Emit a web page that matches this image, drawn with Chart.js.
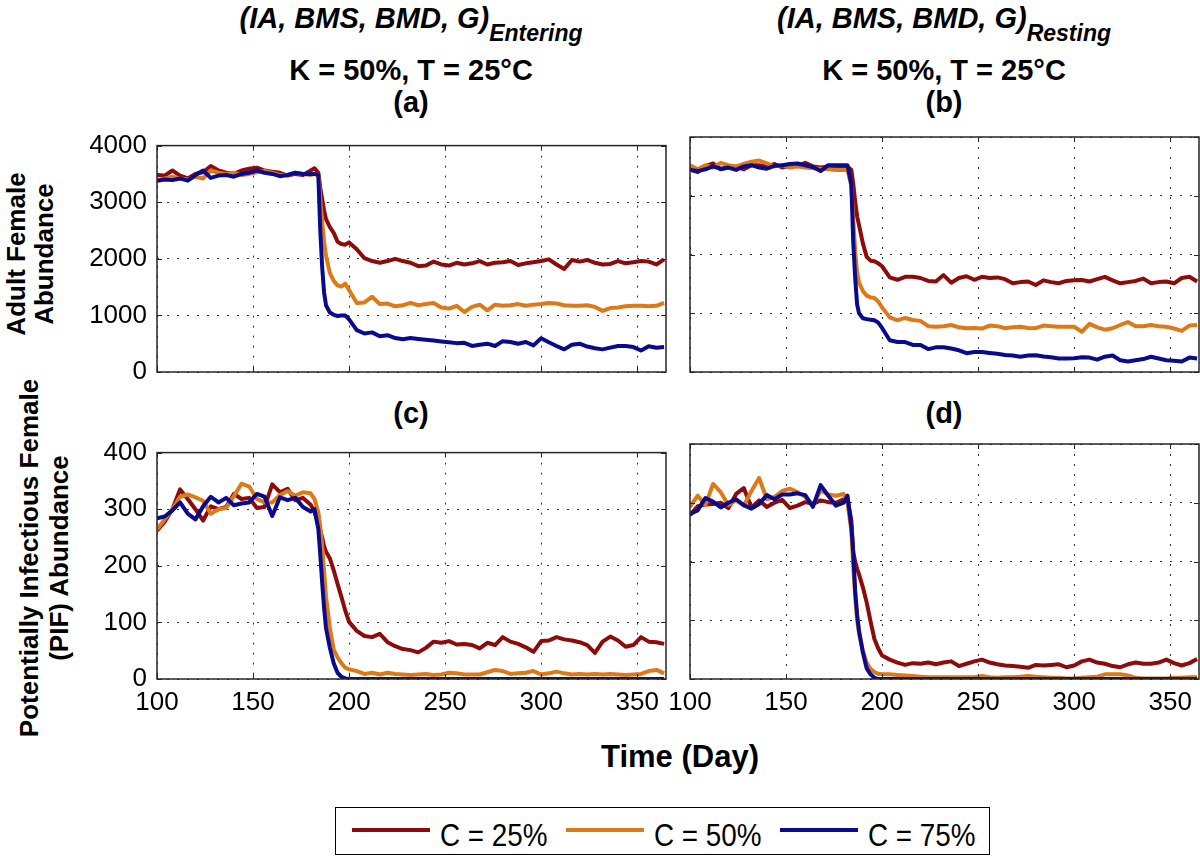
<!DOCTYPE html>
<html>
<head>
<meta charset="utf-8">
<script src="https://cdn.jsdelivr.net/npm/chart.js@4.4.1/dist/chart.umd.min.js"></script>
<style>
  body { margin: 0; background: #fff; }
  #fig { position: relative; width: 1200px; height: 856px; overflow: hidden;
         font-family: "Liberation Sans", Arial, Helvetica, sans-serif; color: #000; }
  canvas { position: absolute; }
  .t { position: absolute; white-space: nowrap; line-height: 1; font-weight: bold;
       transform: translateX(-50%); }
  .sub { font-size: 23px; position: relative; top: 13px; }
  .ylab { position: absolute; white-space: nowrap; font-weight: bold; font-size: 26px;
          text-align: center; transform: translate(-50%, -50%) rotate(-90deg); }
  .legbox { position: absolute; left: 335px; top: 807px; width: 655px; height: 48px;
            box-sizing: border-box; border: 1px solid #000; }
  .legline { position: absolute; height: 4px; width: 78px; top: 828px; }
  .legtext { position: absolute; top: 819px; font-size: 32px; line-height: 1; white-space: nowrap;
             transform: scaleX(0.87); transform-origin: left top; }
</style>
</head>
<body>
<div id="fig">
  <div class="t" style="left:411px;top:4px;font-size:29px;font-style:italic">(IA, BMS, BMD, G)<span class="sub">Entering</span></div>
  <div class="t" style="left:411px;top:56px;font-size:29px">K = 50%, T = 25°C</div>
  <div class="t" style="left:411px;top:88px;font-size:29px">(a)</div>

  <div class="t" style="left:944px;top:4px;font-size:29px;font-style:italic">(IA, BMS, BMD, G)<span class="sub">Resting</span></div>
  <div class="t" style="left:944px;top:56px;font-size:29px">K = 50%, T = 25°C</div>
  <div class="t" style="left:944px;top:88px;font-size:29px">(b)</div>

  <div class="t" style="left:411px;top:399px;font-size:29px">(c)</div>
  <div class="t" style="left:944px;top:399px;font-size:29px">(d)</div>

  <div class="ylab" style="left:30px;top:254px;line-height:28px">Adult Female<br>Abundance</div>
  <div class="ylab" style="left:44px;top:558px;line-height:30px">Potentially Infectious Female<br>(PIF) Abundance</div>

  <div class="t" style="left:680px;top:741px;font-size:31px">Time (Day)</div>

  <canvas id="chartA" width="610" height="297" style="left:60px;top:120px"></canvas>
  <canvas id="chartB" width="610" height="297" style="left:593px;top:120px"></canvas>
  <canvas id="chartC" width="610" height="297" style="left:60px;top:427px"></canvas>
  <canvas id="chartD" width="610" height="297" style="left:593px;top:427px"></canvas>

  <div class="legbox"></div>
  <div class="legline" style="left:352px;background:#8c0b0b"></div>
  <div class="legtext" style="left:440px">C = 25%</div>
  <div class="legline" style="left:566px;background:#dc7a19"></div>
  <div class="legtext" style="left:654px">C = 50%</div>
  <div class="legline" style="left:780px;background:#0a0a8c"></div>
  <div class="legtext" style="left:868px">C = 75%</div>
</div>

<script>
// sampled days (denser around the day-183 drop)
var days = [
  100, 104, 108, 112, 116, 120, 124, 128, 132, 136, 140, 144, 148, 152, 156, 160, 164, 168, 172, 176, 180,
  182, 184, 185, 186, 187, 188, 190, 192, 194, 196, 198, 200,
  204, 208, 212, 216, 220, 224, 228, 232, 236, 240, 244, 248, 252, 256, 260, 264, 268, 272, 276, 280,
  284, 288, 292, 296, 300, 304, 308, 312, 316, 320, 324, 328, 332, 336, 340, 344, 348, 352, 356, 360, 364
];

var xTicks = [100, 150, 200, 250, 300, 350];
var yTicksAdult = [0, 1000, 2000, 3000, 4000];
var yTicksPIF = [0, 100, 200, 300, 400];

var seriesNames = ["C = 25%", "C = 50%", "C = 75%"];
var seriesColors = ["#8c0b0b", "#dc7a19", "#0a0a8c"];

// (a) adult female, entering
var aRed = [
  3480, 3470, 3560, 3470, 3420, 3500, 3530, 3640, 3560, 3520, 3500, 3560, 3590, 3610, 3560, 3540, 3520, 3470, 3500, 3480, 3560,
  3600, 3520, 3250, 3050, 2850, 2700, 2560, 2460, 2300, 2260, 2250, 2290,
  2170, 2010, 1960, 1930, 1960, 2000, 1960, 1930, 1870, 1880, 1950, 1900, 1880, 1930, 1900, 1920, 1960, 1900, 1930, 1940,
  1960, 1890, 1920, 1940, 1960, 1990, 1900, 1820, 1980, 1950, 1980, 1930, 1900, 1910, 1960, 1920, 1940, 1960, 1950, 1900, 1990
];
var aOrange = [
  3380, 3420, 3450, 3420, 3400, 3450, 3420, 3560, 3520, 3500, 3520, 3480, 3500, 3530, 3550, 3520, 3480, 3480, 3520, 3500, 3480,
  3500, 3480, 3050, 2650, 2300, 2050, 1750, 1610, 1530, 1510, 1560, 1450,
  1220, 1230, 1330, 1200, 1210, 1160, 1180, 1220, 1180, 1200, 1220, 1140, 1120, 1170, 1060, 1150, 1190, 1090, 1190, 1170,
  1180, 1200, 1170, 1190, 1200, 1220, 1210, 1180, 1170, 1170, 1180, 1150, 1080, 1130, 1140, 1160, 1170, 1170, 1160, 1170, 1220
];
var aBlue = [
  3380, 3400, 3390, 3420, 3380, 3480, 3560, 3430, 3470, 3480, 3450, 3500, 3520, 3560, 3520, 3500, 3460, 3480, 3520, 3500, 3500,
  3500, 3480, 2500, 1850, 1400, 1180, 1050, 1010, 990, 1000, 1000, 930,
  740, 680, 700, 630, 650, 600, 580, 600, 585, 570, 555, 540, 525, 510, 515, 460, 480, 500, 460, 545,
  530, 500, 530, 470, 595, 525, 460, 400, 480, 500, 450, 420, 400, 430, 460, 460, 440, 380, 455, 430, 440
];

// (b) adult female, resting
var bRed = [
  3450, 3400, 3500, 3550, 3450, 3480, 3500, 3450, 3520, 3520, 3500, 3540, 3480, 3520, 3500, 3560, 3500, 3480, 3500, 3490, 3490,
  3490, 3440, 3200, 2900, 2650, 2500, 2190, 1960, 1895, 1885, 1850, 1800,
  1610, 1570, 1620, 1620, 1600, 1550, 1540, 1650, 1520, 1600, 1630, 1570, 1620, 1600, 1610, 1580, 1510, 1530, 1540, 1480,
  1560, 1530, 1510, 1550, 1560, 1565, 1540, 1580, 1620, 1560, 1510, 1530, 1550, 1590, 1510, 1530, 1540, 1510, 1600, 1620, 1540
];
var bOrange = [
  3520, 3450, 3520, 3480, 3560, 3520, 3500, 3540, 3580, 3600, 3550, 3500, 3520, 3480, 3500, 3480, 3470, 3460, 3450, 3440, 3440,
  3440, 3160, 2600, 2050, 1700, 1520, 1380, 1300, 1270, 1260, 1200, 1100,
  930, 880, 920, 885, 870, 780, 770, 780, 800, 760, 745, 750, 740, 790, 780, 745, 760, 770, 750, 745,
  790, 780, 770, 770, 770, 685, 820, 760, 720, 745, 800, 850, 780, 780, 800, 780, 770, 740, 700, 790, 800
];
var bBlue = [
  3440, 3420, 3450, 3500, 3460, 3480, 3440, 3500, 3520, 3480, 3460, 3510, 3520, 3540, 3550, 3520, 3490, 3420, 3520, 3520, 3520,
  3520, 3200, 2200, 1600, 1150, 1000, 915, 900, 890, 880, 840, 750,
  540, 510, 510, 460, 460, 390, 420, 420, 400, 370, 320, 340, 340, 325, 310, 290, 280, 260, 280, 285,
  265, 250, 230, 230, 235, 250, 245, 210, 260, 280, 200, 180, 200, 220, 260, 230, 200, 190, 180, 245, 230
];

// (c) potentially infectious female, entering
var cRed = [
  262, 278, 300, 335, 318, 300, 280, 305, 300, 304, 327, 318, 320, 302, 304, 344, 330, 336, 316, 320, 308,
  296, 272, 262, 250, 234, 225, 213, 192, 168, 145, 121, 101,
  85, 76, 74, 80, 65, 58, 53, 51, 47, 55, 66, 64, 67, 61, 62, 60, 54, 64, 60, 74,
  66, 62, 56, 48, 67, 68, 74, 70, 68, 65, 60, 46, 66, 75, 68, 57, 60, 74, 66, 65, 62
];
var cOrange = [
  264, 282, 300, 322, 326, 321, 315, 292, 300, 302, 323, 345, 340, 318, 312, 312, 325, 332, 324, 330, 328,
  318, 294, 270, 235, 190, 145, 90, 52, 38, 28, 20, 17,
  14, 9, 11, 8, 11, 9, 8, 7, 8, 9, 7, 8, 11, 10, 8, 8, 8, 12, 16, 14,
  9, 10, 11, 14, 8, 10, 13, 10, 8, 9, 8, 9, 8, 9, 8, 7, 8, 9, 14, 16, 10
];
var cBlue = [
  284, 287, 298, 312, 292, 282, 305, 322, 312, 320, 307, 310, 312, 327, 322, 288, 321, 316, 320, 304, 296,
  300, 265, 220, 170, 125, 90, 55, 28, 11, 4, 1, 0,
  0, 0, 0, 0, 0, 0, 0, 0, 0, 0, 0, 0, 0, 0, 0, 0, 0, 0, 0, 0,
  0, 0, 0, 0, 0, 0, 0, 0, 0, 0, 0, 0, 0, 0, 0, 0, 0, 0, 0, 0, 0
];

// (d) potentially infectious female, resting
var dRed = [
  279, 294, 297, 298, 300, 291, 315, 325, 292, 304, 293, 300, 305, 291, 295, 301, 298, 304, 301, 300, 306,
  306, 270, 215, 200, 188, 178, 156, 130, 98, 68, 52, 40,
  33, 28, 24, 27, 26, 28, 25, 28, 30, 22, 26, 30, 33, 28, 25, 23, 22, 21, 19, 24,
  23, 24, 25, 20, 23, 30, 33, 28, 26, 22, 20, 25, 28, 26, 26, 28, 33, 27, 23, 27, 34
];
var dOrange = [
  293, 312, 296, 332, 318, 296, 304, 295, 320, 342, 306, 310, 320, 324, 318, 310, 296, 321, 314, 312, 315,
  300, 252, 190, 140, 100, 78, 48, 28, 17, 12, 9, 8,
  8, 7, 6, 5, 4, 3, 3, 3, 3, 3, 3, 3, 5, 3, 2, 3, 3, 4, 5, 4,
  3, 2, 2, 1, 1, 2, 3, 4, 8, 8, 8, 6, 2, 1, 1, 1, 1, 2, 2, 3, 3
];
var dBlue = [
  281, 287, 308, 302, 292, 300, 306, 296, 290, 298, 313, 306, 314, 314, 316, 313, 293, 330, 312, 295, 300,
  312, 260, 215, 150, 110, 82, 45, 18, 8, 2, 0, 0,
  0, 0, 0, 0, 0, 0, 0, 0, 0, 0, 0, 0, 0, 0, 0, 0, 0, 0, 0, 0,
  0, 0, 0, 0, 0, 0, 0, 0, 0, 0, 0, 0, 0, 0, 0, 0, 0, 0, 0, 0, 0
];

var fontFamily = '"Liberation Sans", Arial, Helvetica, sans-serif';

// box round the plot area plus small inward tick marks (MATLAB style)
var framePlugin = {
  id: "frame",
  afterDraw: function (chart) {
    var ctx = chart.ctx, a = chart.chartArea, sx = chart.scales.x, sy = chart.scales.y;
    ctx.save();
    ctx.strokeStyle = "#262626";
    ctx.lineWidth = 1;
    ctx.beginPath();
    sx.ticks.forEach(function (t) {
      var px = Math.round(sx.getPixelForValue(t.value)) + 0.5;
      ctx.moveTo(px, a.bottom); ctx.lineTo(px, a.bottom - 5);
      ctx.moveTo(px, a.top); ctx.lineTo(px, a.top + 5);
    });
    sy.ticks.forEach(function (t) {
      var py = Math.round(sy.getPixelForValue(t.value)) + 0.5;
      ctx.moveTo(a.left, py); ctx.lineTo(a.left + 5, py);
      ctx.moveTo(a.right, py); ctx.lineTo(a.right - 5, py);
    });
    ctx.stroke();
    ctx.lineWidth = 1.5;
    ctx.strokeRect(a.left, a.top, a.right - a.left, a.bottom - a.top);
    ctx.restore();
  }
};

function makeChart(id, values, yTicks, showX, showY) {
  var ctx = document.getElementById(id).getContext("2d");
  return new Chart(ctx, {
    type: "line",
    data: {
      datasets: values.map(function (v, i) {
        return {
          label: seriesNames[i],
          data: days.map(function (d, j) { return { x: d, y: v[j] }; }),
          borderColor: seriesColors[i],
          borderWidth: 4,
          pointRadius: 0,
          tension: 0,
          borderJoinStyle: "round",
          order: 3 - i
        };
      })
    },
    options: {
      responsive: false,
      animation: false,
      events: [],
      layout: { padding: { top: 17, right: 4, left: 0, bottom: 0 } },
      plugins: { legend: { display: false }, tooltip: { enabled: false } },
      scales: {
        x: {
          type: "linear",
          min: 100,
          max: 365,
          afterBuildTicks: function (s) { s.ticks = xTicks.map(function (v) { return { value: v }; }); },
          afterFit: function (s) { s.height = 45; },
          grid: { color: "#333", lineWidth: 1, drawTicks: false },
          border: { display: false, dash: [2, 8] },
          ticks: {
            display: showX, padding: 8, color: "#000", maxRotation: 0, autoSkip: false,
            font: { family: fontFamily, size: 26 },
            callback: function (v) { return String(v); }
          }
        },
        y: {
          type: "linear",
          min: 0,
          max: yTicks[yTicks.length - 1],
          afterBuildTicks: function (s) { s.ticks = yTicks.map(function (v) { return { value: v }; }); },
          afterFit: function (s) { s.width = 97; },
          grid: { color: "#333", lineWidth: 1, drawTicks: false },
          border: { display: false, dash: [2, 8] },
          ticks: {
            display: showY, padding: 10, color: "#000",
            font: { family: fontFamily, size: 26 },
            callback: function (v) { return String(v); }
          }
        }
      }
    },
    plugins: [framePlugin]
  });
}

makeChart("chartA", [aRed, aOrange, aBlue], yTicksAdult, false, true);
makeChart("chartB", [bRed, bOrange, bBlue], yTicksAdult, false, false);
makeChart("chartC", [cRed, cOrange, cBlue], yTicksPIF, true, true);
makeChart("chartD", [dRed, dOrange, dBlue], yTicksPIF, true, false);
</script>
</body>
</html>
